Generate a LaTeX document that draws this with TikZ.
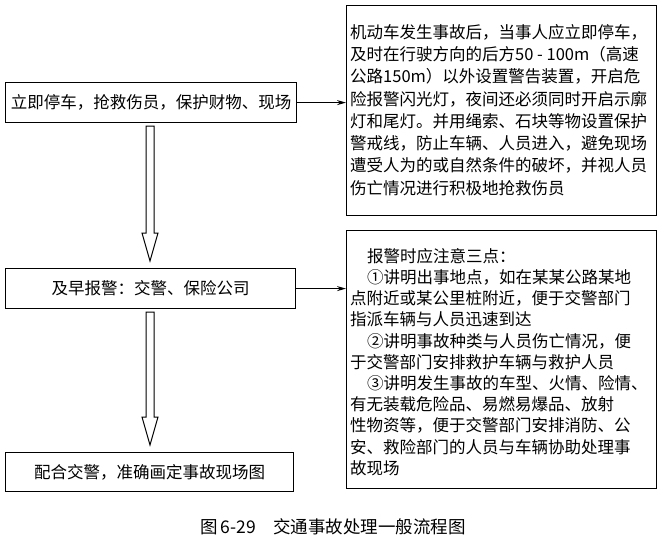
\documentclass[tikz,border=0pt]{standalone}
\usepackage{fontspec}
\newfontfamily\cjk{Noto Sans CJK SC}
\usetikzlibrary{calc,arrows.meta}
\begin{document}
\begin{tikzpicture}[x=1pt,y=-1pt,
  box/.style={draw,line width=1.2pt,inner sep=0pt},
  txt/.style={font=\cjk\fontsize{16.5}{22.3}\selectfont,align=left,anchor=north west,inner sep=0pt},
  conn/.style={line width=1pt,-{Stealth[length=9pt,width=5pt]}},
  hollow/.style={draw,line width=1pt,fill=white}]
\useasboundingbox (0,0) rectangle (666,546);
\node[box,minimum width=291pt,minimum height=40pt,anchor=north west] (b1) at (5,82) {};
\node[font=\cjk\fontsize{16.5}{20}\selectfont] at (b1.center) {立即停车，抢救伤员，保护财物、现场};
\node[box,minimum width=290pt,minimum height=40pt,anchor=north west] (b2) at (5,268) {};
\node[font=\cjk\fontsize{16.5}{20}\selectfont] at (b2.center) {及早报警：交警、保险公司};
\node[box,minimum width=288pt,minimum height=39pt,anchor=north west] (b3) at (5,452) {};
\node[font=\cjk\fontsize{16.5}{20}\selectfont] at (b3.center) {配合交警，准确画定事故现场图};
\node[box,minimum width=310pt,minimum height=210pt,anchor=north west] (r1) at (346,5) {};
\node[txt] (t1) at (350,24) {机动车发生事故后，当事人应立即停车，\\及时在行驶方向的后方50 - 100m（高速\\公路150m）以外设置警告装置，开启危\\险报警闪光灯，夜间还必须同时开启示廓\\灯和尾灯。并用绳索、石块等物设置保护\\警戒线，防止车辆、人员进入，避免现场\\遭受人为的或自然条件的破坏，并视人员\\伤亡情况进行积极地抢救伤员};
\node[box,minimum width=310pt,minimum height=258pt,anchor=north west] (r2) at (346,230) {};
\node[txt,font=\cjk\fontsize{16.5}{21.2}\selectfont] (t2) at (350,248) {\hspace*{17pt}报警时应注意三点：\\\hspace*{17pt}①讲明出事地点，如在某某公路某地\\点附近或某公里桩附近，便于交警部门\\指派车辆与人员迅速到达\\\hspace*{17pt}②讲明事故种类与人员伤亡情况，便\\于交警部门安排救护车辆与救护人员\\\hspace*{17pt}③讲明发生事故的车型、火情、险情、\\有无装载危险品、易燃易爆品、放射\\性物资等，便于交警部门安排消防、公\\安、救险部门的人员与车辆协助处理事\\故现场};
\draw[conn] (b1.east) -- (b1.east -| r1.west);
\draw[conn] (b2.east) -- (b2.east -| r2.west);
\foreach \a/\b in {b1/b2,b2/b3}{
  \path let \p1=(\a.south), \p2=(\b.north) in
    coordinate (s) at (150,\y1) coordinate (e) at (150,\y2);
  \draw[hollow] ($(s)+(-4,3)$) -- ($(e)+(-4,-35)$) -- ($(e)+(-8,-35)$) -- ($(e)+(0,-7)$) -- ($(e)+(8,-35)$) -- ($(e)+(4,-35)$) -- ($(s)+(4,3)$) -- cycle;
}
\node[font=\cjk\fontsize{17.5}{20}\selectfont] (cap) at (333,527) {图\,6-29\quad 交通事故处理一般流程图};
\end{tikzpicture}
\end{document}
